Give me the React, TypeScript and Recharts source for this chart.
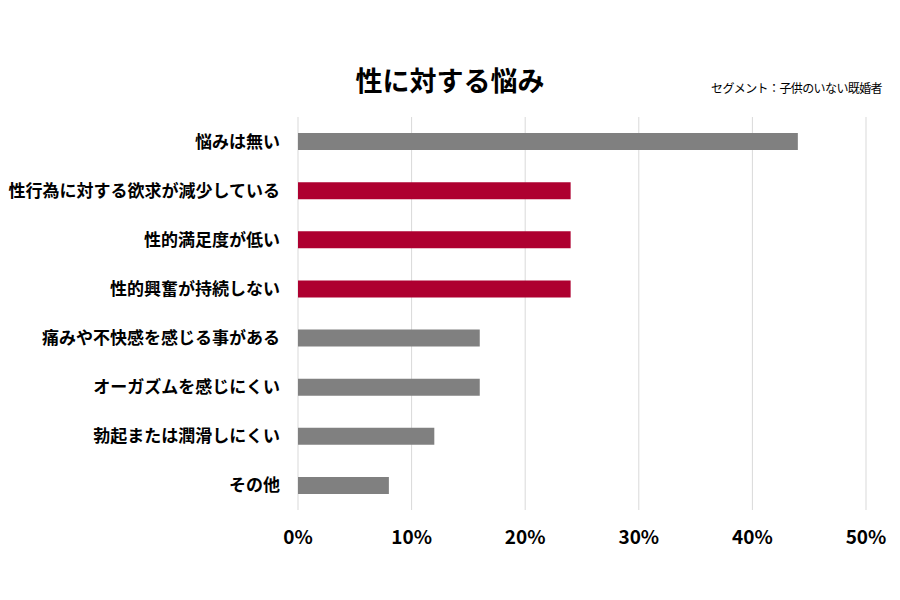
import React from "react";
import { BarChart, Bar, XAxis, YAxis, CartesianGrid, Cell } from "recharts";

const categories = [
  "悩みは無い",
  "性行為に対する欲求が減少している",
  "性的満足度が低い",
  "性的興奮が持続しない",
  "痛みや不快感を感じる事がある",
  "オーガズムを感じにくい",
  "勃起または潤滑しにくい",
  "その他",
];
const values = [44, 24, 24, 24, 16, 16, 12, 8];
const highlighted = [
  "性行為に対する欲求が減少している",
  "性的満足度が低い",
  "性的興奮が持続しない",
];
const xTicks = [0, 10, 20, 30, 40, 50];

const GRAY = "#808080";
const RED = "#AE0030";
const FONT = '"Noto Sans CJK JP", "Noto Sans", sans-serif';

export default function App() {
  const chartData = categories.map((name, i) => ({ name, value: values[i] }));

  return (
    <div style={{ position: "absolute", left: 0, top: 0, width: 900, height: 600, background: "#fff", fontFamily: FONT }}>
      <div
        style={{
          position: "absolute",
          left: 0,
          width: 900,
          top: 60,
          textAlign: "center",
          fontSize: 27,
          fontWeight: 700,
          color: "#000",
          lineHeight: "40px",
        }}
      >
        性に対する悩み
      </div>
      <div
        style={{
          position: "absolute",
          right: 18,
          top: 79,
          fontSize: 12,
          letterSpacing: -0.6,
          color: "#000",
          lineHeight: "18px",
        }}
      >
        セグメント：子供のいない既婚者
      </div>
      <BarChart
        width={900}
        height={600}
        data={chartData}
        layout="vertical"
        margin={{ top: 117, right: 34, left: 0, bottom: 40 }}
        barSize={17}
      >
        <CartesianGrid horizontal={false} stroke="#d9d9d9" />
        <XAxis
          type="number"
          domain={[0, 50]}
          ticks={xTicks}
          tickFormatter={(v) => `${v}%`}
          axisLine={false}
          tickLine={false}
          tickMargin={15}
          height={50}
          tick={{ fill: "#000", fontSize: 19, fontWeight: 700, fontFamily: FONT }}
        />
        <YAxis
          type="category"
          dataKey="name"
          axisLine={false}
          tickLine={false}
          width={298}
          tickMargin={12}
          tick={{ fill: "#000", fontSize: 17, fontWeight: 700, fontFamily: FONT }}
        />
        <Bar dataKey="value" isAnimationActive={false}>
          {chartData.map((entry, index) => (
            <Cell key={`cell-${index}`} fill={highlighted.includes(entry.name) ? RED : GRAY} />
          ))}
        </Bar>
      </BarChart>
    </div>
  );
}
